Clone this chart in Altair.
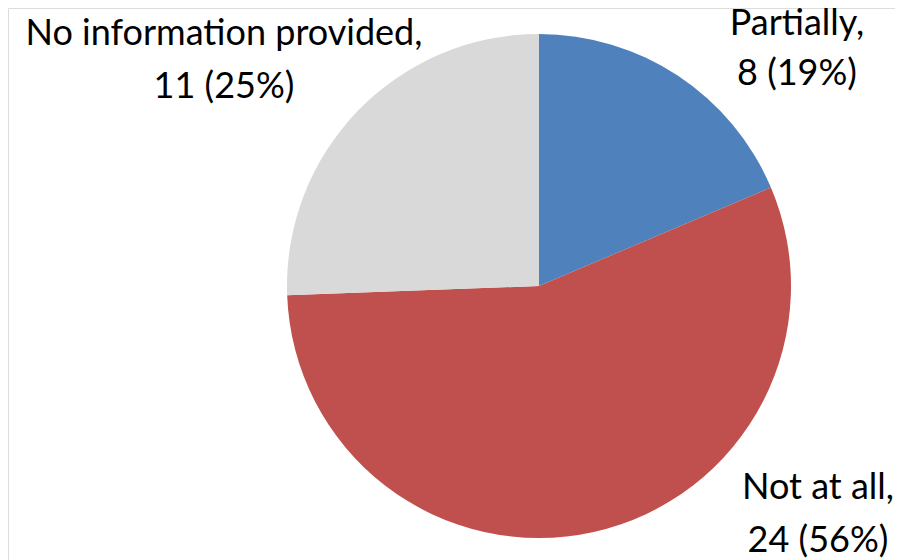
import altair as alt
import pandas as pd

categories = ["Partially", "Not at all", "No information provided"]
counts = [8, 24, 11]
percents = [19, 56, 25]
colors = ["#4F81BD", "#C0504D", "#D9D9D9"]

W, H = 887, 552
CX, CY, R = 531, 278, 252

pie_df = pd.DataFrame({"category": categories, "count": counts, "order": range(len(categories))})

pie = alt.Chart(pie_df).mark_arc(outerRadius=R, stroke=None).encode(
    theta=alt.Theta("count:Q", stack=True),
    color=alt.Color("category:N", scale=alt.Scale(domain=categories, range=colors), legend=None),
    order=alt.Order("order:Q"),
    x=alt.value(CX),
    y=alt.value(CY),
)

# label layout (screen placement of each label's two lines)
label_layout = {
    "Partially": (789, 27, 77),
    "Not at all": (810, 491, 544),
    "No information provided": (216, 37, 90),
}

rows = []
for cat, n, p in zip(categories, counts, percents):
    lx, y1, y2 = label_layout[cat]
    rows.append({"t": f"{cat},", "lx": lx, "ly": y1})
    rows.append({"t": f"{n} ({p}%)", "lx": lx, "ly": y2})
lab_df = pd.DataFrame(rows)

labels = alt.Chart(lab_df).mark_text(
    font="Lato", fontSize=36, color="#000000", align="center", baseline="alphabetic"
).encode(
    x=alt.X("lx:Q", scale=alt.Scale(domain=[0, W], range=[0, W]), axis=None),
    y=alt.Y("ly:Q", scale=alt.Scale(domain=[0, H], range=[0, H]), axis=None),
    text="t:N",
)

chart = alt.layer(pie, labels).properties(
    width=W, height=H, padding=0, autosize=alt.AutoSizeParams(type="none")
).configure_view(stroke=None).configure(background="white")

chart.save("out.html", embed_options={"renderer": "svg", "actions": False})
